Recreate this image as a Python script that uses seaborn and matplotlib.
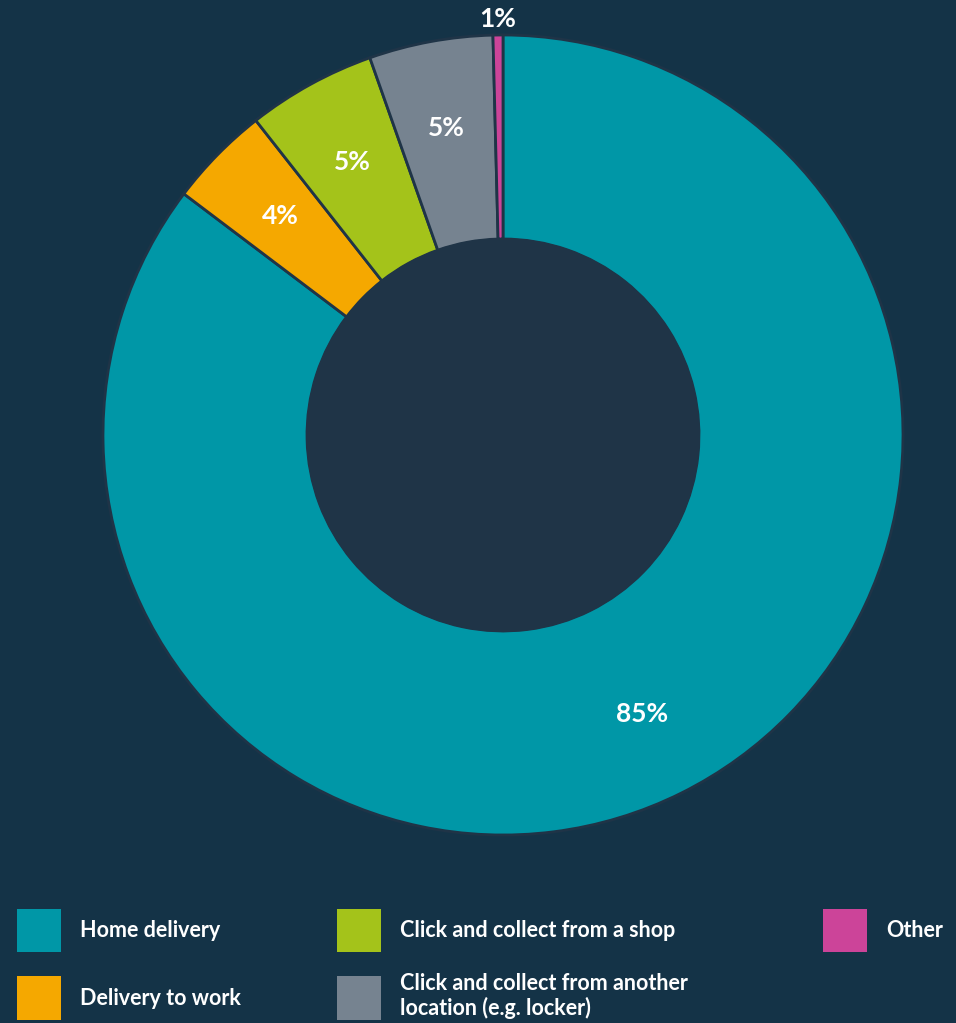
import matplotlib
matplotlib.use("Agg")
import matplotlib.pyplot as plt
import seaborn as sns
from matplotlib.patches import Circle, Patch
import numpy as np

categories = ["Home delivery", "Delivery to work", "Click and collect from a shop",
              "Click and collect from another\nlocation (e.g. locker)", "Other"]
shares = [85.3, 4.1, 5.2, 5.0, 0.4]
share_labels = ["85%", "4%", "5%", "5%", "1%"]
colors = ["#0097a7", "#f5a800", "#a4c31a", "#768390", "#cc4499"]

bg = "#143347"
hole = "#1f3447"

sns.set_theme(style="dark")
plt.rcParams["font.family"] = ["Lato", "DejaVu Sans"]

fig = plt.figure(figsize=(9.56, 10.23), dpi=100, facecolor=bg)
W, H = 956, 1023
ax = fig.add_axes([103 / W, (H - 835) / H, 800 / W, 800 / H])
ax.set_facecolor(bg)

wedges, _ = ax.pie(shares, colors=colors, startangle=90, counterclock=False,
                   radius=1.0, wedgeprops=dict(width=0.51, edgecolor=hole, linewidth=2))
ax.add_patch(Circle((0, 0), 0.49, color=hole, zorder=3))

# percentage labels at wedge mid angles
for w, lab, s in zip(wedges, share_labels, shares):
    mid = np.deg2rad((w.theta1 + w.theta2) / 2)
    r = 1.04 if s < 1 else 0.78
    ax.text(r * np.cos(mid), r * np.sin(mid), lab, ha="center", va="center",
            color="white", fontsize=19, fontweight="bold", zorder=4)

ax.set_xlim(-1, 1)
ax.set_ylim(-1, 1)
ax.set_aspect("equal")
ax.axis("off")

# legend: three columns placed separately
fs = 15.5
fpx = fs * 100 / 72
groups = [[0, 1], [2, 3], [4]]
col_x = [17, 337, 823]
spacing = [1.12, 0.95, 1.0]
for idx, x0, sp in zip(groups, col_x, spacing):
    handles = [Patch(facecolor=colors[i], edgecolor="none") for i in idx]
    leg = fig.legend(handles, [categories[i] for i in idx], loc="upper left",
                     bbox_to_anchor=(x0 / W, 1 - 909 / H), frameon=False,
                     borderpad=0, borderaxespad=0,
                     handlelength=44 / fpx, handleheight=44 / fpx * 1.33,
                     handletextpad=0.9, labelspacing=sp,
                     prop=dict(size=fs, weight="bold"))
    for t in leg.get_texts():
        t.set_color("white")

fig.savefig("out.png", dpi=100, facecolor=bg)
